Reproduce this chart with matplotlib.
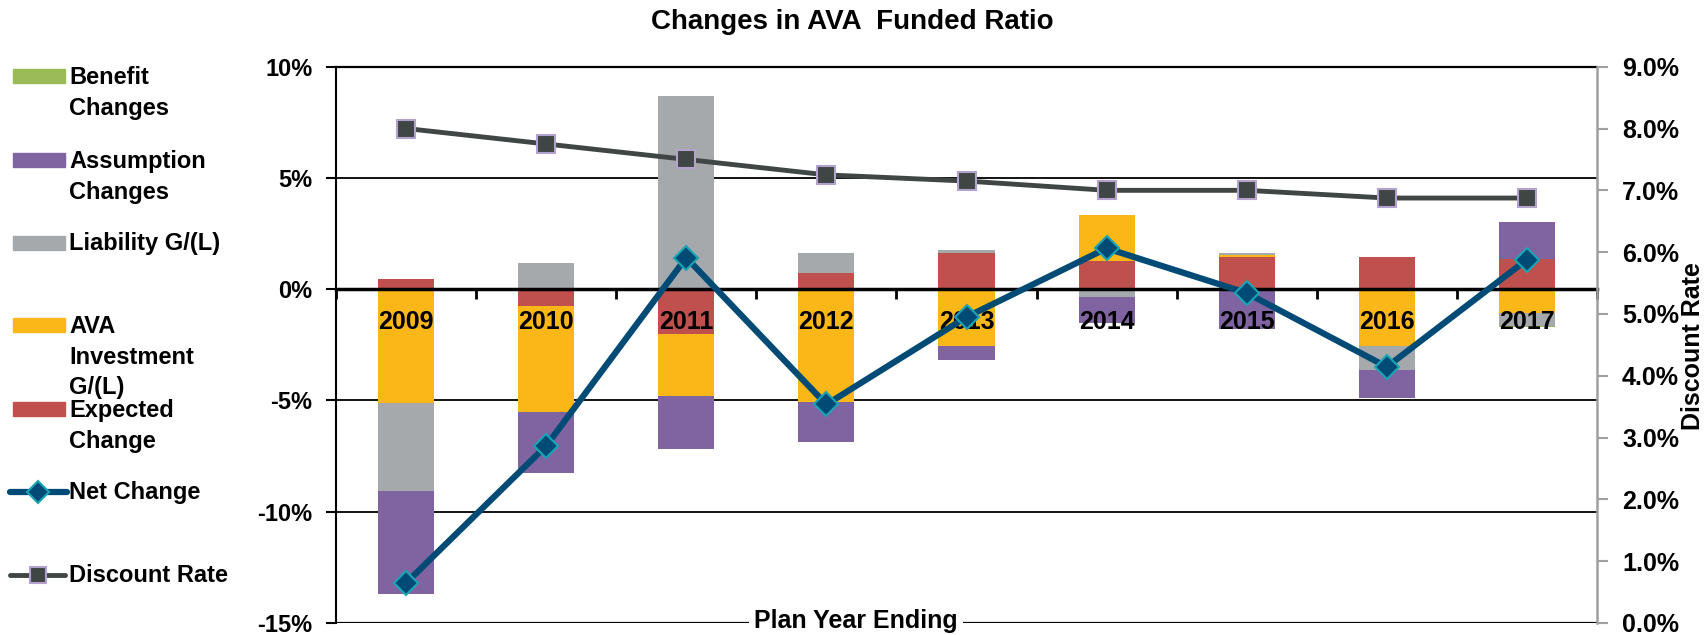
import numpy as np
import matplotlib
matplotlib.use("Agg")
from matplotlib import pyplot as plt
from matplotlib.lines import Line2D
from matplotlib.patches import Rectangle
from matplotlib.ticker import FuncFormatter

plt.rcParams['font.family'] = ['Liberation Sans', 'DejaVu Sans']
plt.rcParams['font.weight'] = 'bold'

# donnees (en %)
years = ['2009', '2010', '2011', '2012', '2013', '2014', '2015', '2016', '2017']
expected = [0.46, -0.76, -2.02, 0.73, 1.63, 1.27, 1.45, 1.44, 1.35]
ava_invest = [-5.13, -4.76, -2.78, -5.06, -2.57, 2.05, 0.10, -2.56, -1.09]
liability = [-3.94, 1.18, 8.67, 0.90, 0.15, -0.35, 0.08, -1.08, -0.57]
assumption = [-4.63, -2.76, -2.40, -1.80, -0.62, -1.16, -1.77, -1.24, 1.69]
benefit = [0, 0, 0, 0, 0, 0, 0, 0, -0.06]
net_change = [-13.2, -7.04, 1.42, -5.18, -1.25, 1.84, -0.17, -3.49, 1.33]
discount_rate = [8.0, 7.75, 7.5, 7.25, 7.15, 7.0, 7.0, 6.875, 6.875]

c_green = '#9BBB59'
c_purple = '#8064A2'
c_gray = '#A6A9AC'
c_yellow = '#FBB717'
c_red = '#C0504D'
c_net = '#004B76'
c_net_edge = '#1AA5B5'
c_disc = '#404645'
c_disc_edge = '#B3A2CC'

W, H = 1705, 635
def fx(px):
    return px / W
def fy(py):
    return 1 - py / H

fig = plt.figure(figsize=(W / 100, H / 100), dpi=100)
ax = fig.add_axes([fx(336), fy(623), (1597 - 336) / W, (623 - 66.7) / H])

x = np.arange(len(years))
ax.set_xlim(-0.5, len(years) - 0.5)
ax.set_ylim(-15, 10)

# barres empilees (positif / negatif separes)
pos_base = np.zeros(len(years))
neg_base = np.zeros(len(years))
for vals, col in [(expected, c_red), (ava_invest, c_yellow), (liability, c_gray),
                  (assumption, c_purple), (benefit, c_green)]:
    v = np.array(vals, dtype=float)
    bottoms = np.where(v >= 0, pos_base, neg_base)
    ax.bar(x, v, 0.4, bottom=bottoms, color=col, zorder=1)
    pos_base = pos_base + np.where(v >= 0, v, 0)
    neg_base = neg_base + np.where(v < 0, v, 0)

# lignes de grille
for yv in [-10, -5, 5]:
    ax.axhline(yv, color='black', lw=1.3, zorder=0.5)
ax.axhline(-15, color='black', lw=1.6, zorder=0.5)

ax.plot(x, net_change, color=c_net, lw=4.5, marker='D', ms=12,
        mfc=c_net, mec=c_net_edge, mew=1.5, zorder=3)

# axes
ax.spines['bottom'].set_position(('data', 0))
ax.spines['bottom'].set_linewidth(2.5)
ax.spines['left'].set_linewidth(1.5)
ax.spines['top'].set_linewidth(1.6)
ax.spines['right'].set_visible(False)

ax.set_xticks(np.arange(-0.5, len(years)), minor=False)
ax.set_xticklabels([])
ax.set_xticks(x, minor=True)
ax.set_xticklabels(years, minor=True, fontsize=18)
ax.tick_params(axis='x', which='major', length=7, width=2, direction='out')
ax.tick_params(axis='x', which='minor', length=0, pad=15)

ax.set_yticks(np.arange(-15, 11, 5))
ax.yaxis.set_major_formatter(FuncFormatter(lambda v, p: '%d%%' % v))
ax.tick_params(axis='y', labelsize=17, length=7, width=1.5, pad=10)

ax2 = ax.twinx()
ax2.set_ylim(0, 9)
ax2.plot(x, discount_rate, color=c_disc, lw=3.5, marker='s', ms=13,
         mfc=c_disc, mec=c_disc_edge, mew=1.5, zorder=3)
ax2.set_yticks(np.arange(0, 10, 1))
ax2.yaxis.set_major_formatter(FuncFormatter(lambda v, p: '%.1f%%' % v))
ax2.tick_params(axis='y', labelsize=18, length=8, width=1.5, color='#A0A0A0', pad=10)
for s in ['top', 'left', 'bottom']:
    ax2.spines[s].set_visible(False)
ax2.spines['right'].set_color('#A0A0A0')
ax2.spines['right'].set_linewidth(1.8)

fig.text(fx(852), fy(22), 'Changes in AVA  Funded Ratio', ha='center', va='center', fontsize=20)
fig.text(fx(856), fy(621), 'Plan Year Ending', ha='center', va='center', fontsize=18,
         bbox=dict(facecolor='white', edgecolor='none', pad=4))
fig.text(fx(1693), fy(346), 'Discount Rate', rotation=90, ha='center', va='center', fontsize=18)

# legende a gauche
def leg_patch(py, col):
    fig.add_artist(Rectangle((fx(13), fy(py + 7)), (65 - 13) / W, 14 / H,
                             transform=fig.transFigure, color=col))

def leg_text(py, s):
    fig.text(fx(69), fy(py), s, ha='left', va='center', fontsize=17, linespacing=1.42)

leg_patch(76, c_green)
leg_text(93, 'Benefit\nChanges')
leg_patch(160, c_purple)
leg_text(177, 'Assumption\nChanges')
leg_patch(243, c_gray)
leg_text(244, 'Liability G/(L)')
leg_patch(325, c_yellow)
leg_text(357, 'AVA\nInvestment\nG/(L)')
leg_patch(409, c_red)
leg_text(426, 'Expected\nChange')

fig.add_artist(Line2D([fx(10), fx(67)], [fy(492), fy(492)], transform=fig.transFigure,
                      color=c_net, lw=4.5, solid_capstyle='round'))
fig.add_artist(Line2D([fx(38)], [fy(492)], transform=fig.transFigure, marker='D', ms=11,
                      mfc=c_net, mec=c_net_edge, mew=1.5))
leg_text(493, 'Net Change')
fig.add_artist(Line2D([fx(10), fx(65)], [fy(575), fy(575)], transform=fig.transFigure,
                      color=c_disc, lw=3.5, solid_capstyle='round'))
fig.add_artist(Line2D([fx(38)], [fy(575)], transform=fig.transFigure, marker='s', ms=12,
                      mfc=c_disc, mec=c_disc_edge, mew=1.5))
leg_text(576, 'Discount Rate')

fig.savefig('out.png', dpi=100)
